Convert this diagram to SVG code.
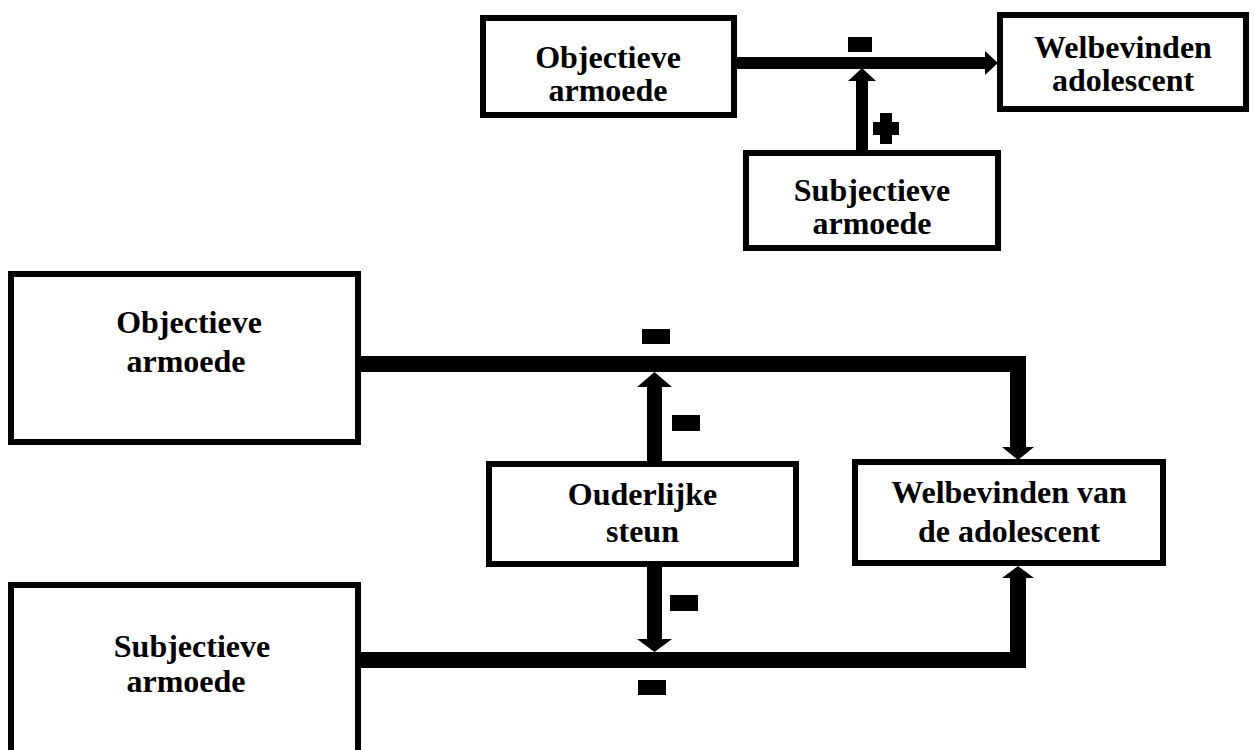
<svg xmlns="http://www.w3.org/2000/svg" width="1254" height="750" viewBox="0 0 1254 750">
<style>
.box{fill:#fff;stroke:#000;stroke-width:6}
.t{font-family:"Liberation Serif","Times New Roman",serif;font-weight:bold;font-size:32px;fill:#000;text-anchor:middle}
.ln{fill:none;stroke:#000}
.sign{fill:#000}
</style>
<rect width="1254" height="750" fill="#fff"/>
<g id="connectors">
  <line class="ln" x1="737" y1="63" x2="987" y2="63" stroke-width="12"/>
  <polygon points="985,51 998,63 985,75" fill="#000"/>
  <line class="ln" x1="862" y1="150" x2="862" y2="80" stroke-width="12"/>
  <polygon points="848,81 862,68 876,81" fill="#000"/>
  <polyline class="ln" points="361,364 1018,364 1018,448" stroke-width="16"/>
  <polygon points="1002,447 1018,460 1034,447" fill="#000"/>
  <polyline class="ln" points="361,660 1018,660 1018,577" stroke-width="16"/>
  <polygon points="1002,578 1018,566 1034,578" fill="#000"/>
  <line class="ln" x1="654.5" y1="461" x2="654.5" y2="386" stroke-width="15"/>
  <polygon points="637,387 654.5,372 672,387" fill="#000"/>
  <line class="ln" x1="654.5" y1="567" x2="654.5" y2="640" stroke-width="15"/>
  <polygon points="637,639 654.5,652 672,639" fill="#000"/>
</g>
<g id="signs">
  <rect class="sign" x="848" y="37" width="24" height="15"/>
  <path class="sign" d="M880,113 H892 V122 H899 V135 H892 V144 H880 V135 H873 V122 H880 Z"/>
  <rect class="sign" x="642" y="329" width="28" height="15"/>
  <rect class="sign" x="672" y="415" width="28" height="16"/>
  <rect class="sign" x="670" y="595" width="28" height="16"/>
  <rect class="sign" x="638" y="680" width="28" height="15"/>
</g>
<g id="top-objectieve">
  <rect class="box" x="483" y="18" width="251" height="97"/>
  <text class="t" x="608" y="68">Objectieve</text>
  <text class="t" x="608" y="101">armoede</text>
</g>
<g id="top-welbevinden">
  <rect class="box" x="1000" y="15" width="246" height="94"/>
  <text class="t" x="1123" y="58">Welbevinden</text>
  <text class="t" x="1123" y="91">adolescent</text>
</g>
<g id="top-subjectieve">
  <rect class="box" x="746" y="153" width="252" height="95"/>
  <text class="t" x="872" y="201">Subjectieve</text>
  <text class="t" x="872" y="234">armoede</text>
</g>
<g id="bottom-objectieve">
  <rect class="box" x="11" y="274" width="347" height="168"/>
  <text class="t" x="189" y="333">Objectieve</text>
  <text class="t" x="186" y="372">armoede</text>
</g>
<g id="bottom-subjectieve">
  <rect class="box" x="11" y="585" width="347" height="180"/>
  <text class="t" x="192" y="657">Subjectieve</text>
  <text class="t" x="186" y="692">armoede</text>
</g>
<g id="ouderlijke-steun">
  <rect class="box" x="489" y="464" width="307" height="100"/>
  <text class="t" x="642.5" y="505">Ouderlijke</text>
  <text class="t" x="642.5" y="542">steun</text>
</g>
<g id="welbevinden-van-de-adolescent">
  <rect class="box" x="855" y="462" width="308" height="101"/>
  <text class="t" x="1009" y="503">Welbevinden van</text>
  <text class="t" x="1009" y="542">de adolescent</text>
</g>
</svg>
